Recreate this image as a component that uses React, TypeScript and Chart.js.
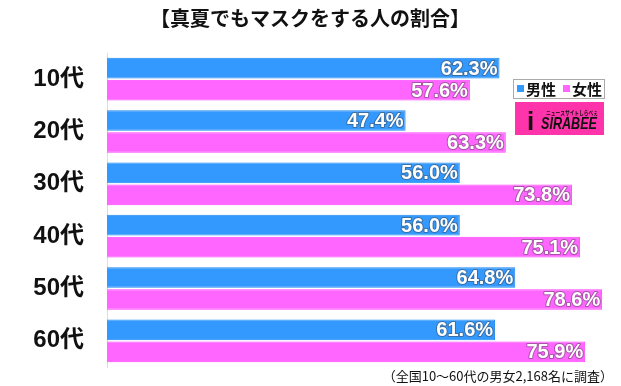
import React, { useEffect, useRef } from "react";
import { Chart, registerables } from "chart.js";

Chart.register(...registerables);

const TITLE = "【真夏でもマスクをする人の割合】";
const NOTE = "（全国10～60代の男女2,168名に調査）";
const categories = ["10代", "20代", "30代", "40代", "50代", "60代"];
const maleLabel = "男性";
const femaleLabel = "女性";
const maleValues = [62.3, 47.4, 56.0, 56.0, 64.8, 61.6];
const femaleValues = [57.6, 63.3, 73.8, 75.1, 78.6, 75.9];

const MALE_FILL = "#3399ff";
const MALE_BORDER = "#1e88f0";
const FEMALE_FILL = "#ff66ff";
const FEMALE_BORDER = "#ff40ff";
const FONT = "'Liberation Sans', Arial, 'Noto Sans CJK JP', sans-serif";

const decorPlugin = {
  id: "decor",
  afterDatasetsDraw(chart: any) {
    const ctx = chart.ctx;
    ctx.save();
    chart.data.datasets.forEach((ds: any, di: number) => {
      const meta = chart.getDatasetMeta(di);
      meta.data.forEach((el: any, i: number) => {
        const v = ds.data[i];
        ctx.font = `bold 20px ${FONT}`;
        ctx.textAlign = "right";
        ctx.textBaseline = "middle";
        ctx.lineWidth = 2;
        ctx.strokeStyle = "rgba(60,60,60,0.45)";
        ctx.lineJoin = "round";
        const t = v.toFixed(1) + "%";
        ctx.strokeText(t, el.x - 2, el.y + 1);
        ctx.fillStyle = "#ffffff";
        ctx.fillText(t, el.x - 2, el.y + 1);
      });
    });
    ctx.restore();
  },
  afterDraw(chart: any) {
    const ctx = chart.ctx;
    ctx.save();
    // title
    ctx.fillStyle = "#111";
    ctx.font = `bold 20px 'Noto Sans CJK JP', ${FONT}`;
    ctx.textAlign = "center";
    ctx.textBaseline = "middle";
    ctx.fillText(TITLE, 310, 18);
    // footnote
    ctx.font = `13px 'Noto Sans CJK JP', ${FONT}`;
    ctx.textAlign = "right";
    ctx.fillStyle = "#111";
    ctx.fillText(NOTE, 613, 376);
    // legend box
    ctx.fillStyle = "#fff";
    ctx.fillRect(513, 79, 92, 20);
    ctx.strokeStyle = "#aaa";
    ctx.lineWidth = 1;
    ctx.strokeRect(513.5, 79.5, 91, 19);
    ctx.font = `bold 15px 'Noto Sans CJK JP', ${FONT}`;
    ctx.textAlign = "left";
    ctx.fillStyle = MALE_FILL;
    ctx.fillRect(517, 85, 7, 7);
    ctx.fillStyle = "#111";
    ctx.fillText(maleLabel, 526, 89);
    ctx.fillStyle = FEMALE_FILL;
    ctx.fillRect(563, 85, 7, 7);
    ctx.fillStyle = "#111";
    ctx.fillText(femaleLabel, 572, 89);
    // logo
    ctx.fillStyle = "#ff33aa";
    ctx.fillRect(515, 102, 89, 33);
    ctx.fillStyle = "#111";
    ctx.font = `bold 6px 'Noto Sans CJK JP', ${FONT}`;
    ctx.fillText("ニュースサイトしらべぇ", 546, 113, 52);
    ctx.font = `italic bold 17px ${FONT}`;
    ctx.fillText("SIRABEE", 541, 124, 56);
    ctx.font = `bold 26px ${FONT}`;
    ctx.fillText("i", 527, 123);
    ctx.restore();
  },
};

export default function App() {
  const ref = useRef<HTMLCanvasElement>(null);
  useEffect(() => {
    document.body.style.margin = "0";
    const chart = new Chart(ref.current!, {
      type: "bar",
      data: {
        labels: categories,
        datasets: [
          {
            label: maleLabel,
            data: maleValues,
            backgroundColor: MALE_FILL,
            borderColor: MALE_BORDER,
            borderWidth: 1,
            categoryPercentage: 0.84,
            barPercentage: 0.94,
          },
          {
            label: femaleLabel,
            data: femaleValues,
            backgroundColor: FEMALE_FILL,
            borderColor: FEMALE_BORDER,
            borderWidth: 1,
            categoryPercentage: 0.84,
            barPercentage: 0.94,
          },
        ],
      },
      plugins: [decorPlugin],
      options: {
        indexAxis: "y",
        animation: false,
        responsive: false,
        maintainAspectRatio: false,
        layout: { padding: { top: 53, bottom: 19, right: 10, left: 0 } },
        plugins: {
          legend: { display: false },
          title: { display: false },
          tooltip: { enabled: false },
        },
        scales: {
          x: {
            display: false,
            min: 0,
            max: 80,
          },
          y: {
            afterFit(scale: any) {
              scale.width = 107;
              scale.paddingTop = 0;
              scale.paddingBottom = 0;
            },
            grid: { display: false, drawTicks: false },
            border: { display: true, color: "#dddddd", width: 1 },
            ticks: {
              color: "#111",
              padding: 23,
              font: { size: 24, weight: "bold", family: `${FONT}` },
            },
          },
        },
      },
    } as any);
    return () => chart.destroy();
  }, []);
  return <canvas ref={ref} width={621} height={386} style={{ display: "block" }} />;
}
